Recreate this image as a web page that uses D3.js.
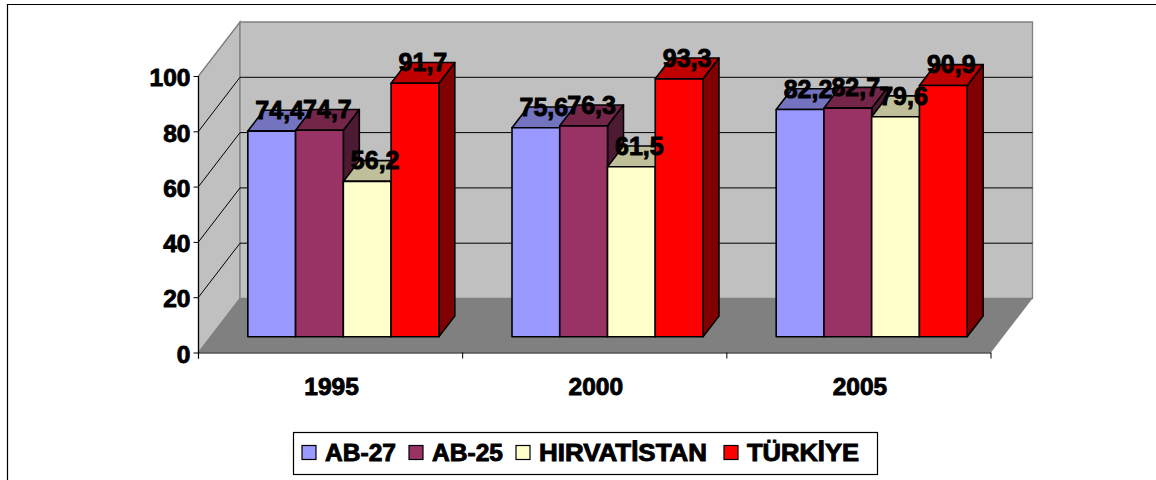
<!DOCTYPE html>
<html><head><meta charset="utf-8">
<style>html,body{margin:0;padding:0;background:#fff}svg{display:block}
text{font-family:"Liberation Sans",Arial,sans-serif;font-weight:bold;fill:#000;stroke:#000;stroke-width:.9px}</style>
<script src="https://cdnjs.cloudflare.com/ajax/libs/d3/7.8.5/d3.min.js"></script>
</head><body><svg id="c" width="1156" height="480"></svg>
<script>
const years = ["1995","2000","2005"];
const seriesNames = ["AB-27","AB-25","HIRVATİSTAN","TÜRKİYE"];
const ab27 = [74.4,75.6,82.2];
const ab25 = [74.7,76.3,82.7];
const hirvatistan = [56.2,61.5,79.6];
const turkiye = [91.7,93.3,90.9];
const seriesValues = [ab27,ab25,hirvatistan,turkiye];
const yTicks = [0,20,40,60,80,100];
const frontColors = ["#9999FF","#993366","#FFFFCC","#FF0000"];
const topColors = ["#7373BF","#732648","#BFBF99","#BF0000"];
const sideColors = ["#4D4D80","#4D1A33","#808066","#800000"];

const svg = d3.select("#c");
const fmt = v => v.toFixed(1).replace(".",",");
const L=198.5,R=991,Y0=352.5,Y100=76,DX=41.5,DY=-54;
const y = d3.scaleLinear().domain([0,100]).range([Y0,Y100]);
const x = d3.scaleBand().domain(years).range([L,R]);
const barW = 47.75;
const inner = d3.scaleBand().domain(d3.range(4)).range([0,barW*4]);
const dFront=.3, dBack=.685;
const px = (xv,d)=>xv+DX*d+.3, py=(val,d)=>y(val)+DY*d+.5;
const poly = pts=>pts.map(p=>p.join(",")).join(" ");

// frame
svg.append("path").attr("d","M1156,4.5H7.5V480").attr("fill","none").attr("stroke","#000").attr("stroke-width",1.2);

// walls
const wall = svg.append("g");
wall.append("polygon").attr("points",poly([[L,Y0],[L+DX,Y0+DY],[L+DX,Y100+DY],[L,Y100]])).attr("fill","#C0C0C0").attr("stroke","#808080").attr("stroke-width",1.3);
wall.append("polygon").attr("points",poly([[L+DX,Y0+DY],[R+DX,Y0+DY],[R+DX,Y100+DY],[L+DX,Y100+DY]])).attr("fill","#C0C0C0").attr("stroke","#808080").attr("stroke-width",1.3);
wall.append("polygon").attr("points",poly([[L,Y0],[R,Y0],[R+DX,Y0+DY],[L+DX,Y0+DY]])).attr("fill","#808080");
// gridlines
yTicks.filter(t=>t>0&&t<100).forEach(t=>{
  wall.append("polyline").attr("fill","none").attr("stroke","#000").attr("stroke-width",1)
    .attr("points",poly([[L,y(t)],[L+DX,y(t)+DY],[R+DX,y(t)+DY]]));
});
wall.append("polyline").attr("fill","none").attr("stroke-width",1)
  .attr("points",poly([[L,y(100)],[L+DX,y(100)+DY]])).attr("stroke","#808080");

// axes
const yAxis = d3.axisLeft(y).tickValues(yTicks).tickSize(5).tickPadding(3);
const gy = svg.append("g").attr("transform",`translate(${L},0)`).call(yAxis);
gy.selectAll("text").style("font-size","24.5px").attr("dy","0.62em").attr("y",-5.5).attr("fill","#000");
const xAxis = d3.axisBottom(x).tickSize(0).tickPadding(0);
const gx = svg.append("g").attr("transform",`translate(0,${Y0})`).call(xAxis);
gx.select(".domain").attr("d",`M${L},0.5H${R}`).attr("stroke","#000").attr("stroke-width",1.2);
gx.selectAll("text").style("font-size","24.5px").attr("y",25).attr("x",1).attr("fill","#000");
const xEdges = years.map(c=>x(c)).concat([R]);
gx.selectAll("line.edge").data(xEdges).join("line").attr("class","edge")
  .attr("x1",d=>d).attr("x2",d=>d).attr("y1",0).attr("y2",6).attr("stroke","#000");
gy.select(".domain").attr("stroke","#000").attr("d",`M0,${y(100)}V${y(0)+6}`).attr("stroke-width",1.2);

// bars
const bars = svg.append("g").attr("stroke","#000").attr("stroke-width",1.6).attr("stroke-linejoin","round");
const labels = [];
years.forEach((yr,c)=>{
  const x0 = x(yr)+(x.bandwidth()-barW*4)/2;
  seriesValues.forEach((vals,s)=>{
    const v = vals[c], a = x0+inner(s), b = a+barW;
    bars.append("polygon").attr("fill",sideColors[s]).attr("points",poly([
      [px(b,dFront),py(0,dFront)],[px(b,dBack),py(0,dBack)],[px(b,dBack),py(v,dBack)],[px(b,dFront),py(v,dFront)]]));
    bars.append("polygon").attr("fill",topColors[s]).attr("points",poly([
      [px(a,dFront),py(v,dFront)],[px(b,dFront),py(v,dFront)],[px(b,dBack),py(v,dBack)],[px(a,dBack),py(v,dBack)]]));
    bars.append("polygon").attr("fill",frontColors[s]).attr("points",poly([
      [px(a,dFront),py(0,dFront)],[px(b,dFront),py(0,dFront)],[px(b,dFront),py(v,dFront)],[px(a,dFront),py(v,dFront)]]));
    labels.push({x:px((a+b)/2,(dFront+dBack)/2),y:py(v,dFront)-12,t:fmt(v)});
  });
});
svg.append("g").selectAll("text").data(labels).join("text")
  .attr("x",d=>d.x).attr("y",d=>d.y).attr("text-anchor","middle").style("font-size","25px").text(d=>d.t);

// legend
const lg = svg.append("g");
lg.append("rect").attr("x",293.5).attr("y",432.5).attr("width",584).attr("height",42).attr("fill","#fff").attr("stroke","#000").attr("stroke-width",1.2);
const legendX = d3.scaleOrdinal().domain(seriesNames).range([302,409,516,724]);
const legendTextWidths = [71,71,168,112];
seriesNames.forEach((n,i)=>{
  const sx = legendX(n);
  lg.append("rect").attr("x",sx).attr("y",445.5).attr("width",14).attr("height",14).attr("fill",frontColors[i]).attr("stroke","#000").attr("stroke-width",1.2);
  lg.append("text").attr("x",sx+23).attr("y",461).style("font-size","23.5px")
    .attr("textLength",legendTextWidths[i]).attr("lengthAdjust","spacingAndGlyphs").text(n);
});
</script></body></html>
